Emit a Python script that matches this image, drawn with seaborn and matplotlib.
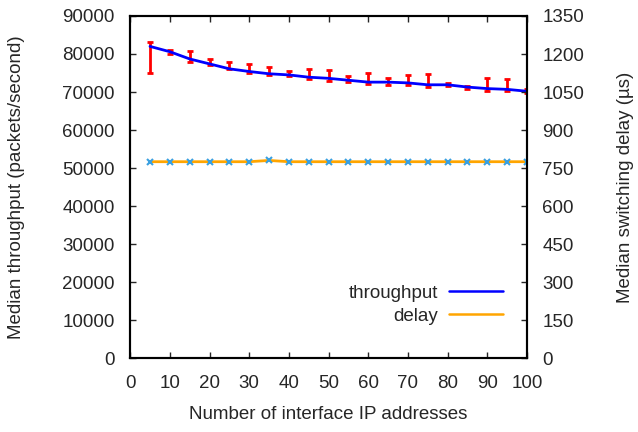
import numpy as np
import pandas as pd
import matplotlib
matplotlib.use("Agg")
import matplotlib.pyplot as plt
import seaborn as sns

# number of interface IP addresses
n_addrs = [5, 10, 15, 20, 25, 30, 35, 40, 45, 50,
           55, 60, 65, 70, 75, 80, 85, 90, 95, 100]
# median throughput (packets/second) and its spread
tput = [82000, 80600, 78700, 77400, 76100, 75400, 74800, 74500, 73900, 73600,
        73100, 72600, 72600, 72400, 71900, 71900, 71300, 70900, 70700, 70200]
tput_lo = [75000, 80000, 78000, 77100, 76000, 75100, 74500, 74200, 73500, 73000,
           72600, 72100, 71900, 71800, 71400, 71500, 70800, 70300, 70300, 69800]
tput_hi = [83100, 81000, 80800, 78600, 77800, 77300, 76700, 75500, 76100, 75800,
           74300, 74900, 73700, 74500, 74700, 72300, 71700, 73800, 73400, 70700]
# median switching delay (us)
delay = [775, 775, 775, 775, 775, 775, 780, 775, 775, 775,
         775, 775, 775, 775, 775, 775, 775, 775, 775, 775]

sns.set_style("ticks")
plt.rcParams['font.family'] = ['Liberation Sans', 'DejaVu Sans']
plt.rcParams['font.size'] = 13.5
plt.rcParams['xtick.direction'] = 'in'
plt.rcParams['ytick.direction'] = 'in'

df = pd.DataFrame({'n': n_addrs, 'throughput': tput, 'delay': delay})

fig, ax = plt.subplots(figsize=(6.38, 4.32), dpi=100)
fig.subplots_adjust(left=0.204, right=0.826, top=0.963, bottom=0.171)
ax2 = ax.twinx()

yerr = [np.array(tput) - np.array(tput_lo), np.array(tput_hi) - np.array(tput)]
ax.errorbar(n_addrs, tput, yerr=yerr, fmt='none', ecolor='red',
            elinewidth=2, capsize=2.5, capthick=2, zorder=2)
sns.lineplot(data=df, x='n', y='throughput', ax=ax, color='blue',
             linewidth=2, label='throughput', legend=False, zorder=3)
sns.lineplot(data=df, x='n', y='delay', ax=ax2, color='orange',
             linewidth=2, marker='x', markersize=4, markeredgecolor='#3aa0e0',
             markeredgewidth=1.5, label='delay', legend=False)

ax.set_xlim(0, 100)
ax.set_ylim(0, 90000)
ax2.set_ylim(0, 1350)
ax.set_xticks(range(0, 101, 10))
ax.set_yticks(range(0, 90001, 10000))
ax2.set_yticks(range(0, 1351, 150))
ax.tick_params(axis='x', top=True, length=4, width=1, pad=12)
ax.tick_params(axis='y', length=4, width=1, pad=11)
ax2.tick_params(axis='y', length=4, width=1, pad=11)
for a in (ax, ax2):
    for s in a.spines.values():
        s.set_visible(True)
        s.set_linewidth(1.5)
        s.set_color('black')

ax.set_xlabel('Number of interface IP addresses', labelpad=10)
ax.set_ylabel('Median throughput (packets/second)', labelpad=27)
ax2.set_ylabel('Median switching delay (\u00b5s)', labelpad=24)

h1, l1 = ax.get_legend_handles_labels()
h2, l2 = ax2.get_legend_handles_labels()
ax2.legend(h1 + h2, l1 + l2, loc='lower right', frameon=False,
           markerfirst=False, handlelength=2.9, handletextpad=0.55,
           labelspacing=0.33, borderpad=0, borderaxespad=0,
           bbox_to_anchor=(0.94, 0.097))
for line in ax2.get_legend().get_lines():
    line.set_marker('')
    line.set_linewidth(1.8)

fig.savefig('out.png', dpi=100)
